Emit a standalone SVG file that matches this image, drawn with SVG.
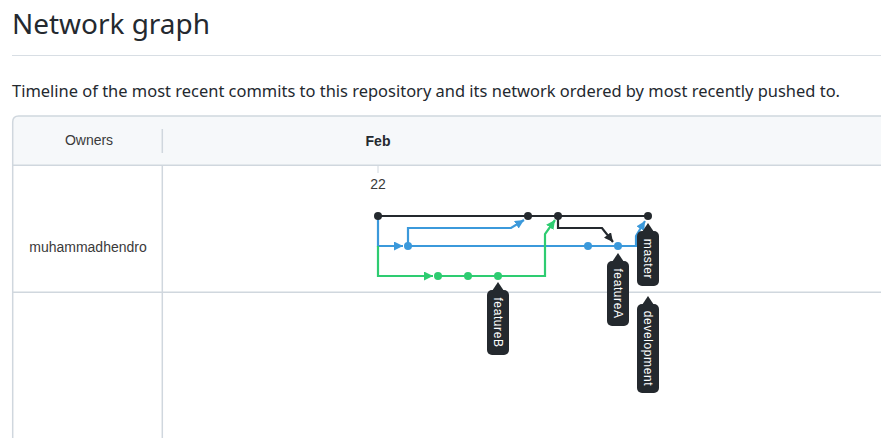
<svg xmlns="http://www.w3.org/2000/svg" width="881" height="438" viewBox="0 0 881 438">
<defs>
<style>
.title{font-family:"Noto Sans","Open Sans",sans-serif;font-size:28px;fill:#24292f}
.sub{font-family:"Noto Sans","Open Sans",sans-serif;font-size:16px;fill:#24292f}
.tbl{font-family:"Liberation Sans",Arial,sans-serif;font-size:14px;fill:#3a3a3a;text-anchor:middle}
.grid{stroke:#d0d7de;stroke-width:1.5;fill:none}
.lbl rect,.lbl path{fill:#24292e}
.lbl text{font-family:"Liberation Sans",Arial,sans-serif;font-size:12px;fill:#ffffff;text-anchor:middle;dominant-baseline:central;letter-spacing:0.6px}
.k{stroke:#24292e;stroke-width:2.2;fill:none}
.b{stroke:#3b99db;stroke-width:2.2;fill:none}
.g{stroke:#2ecc71;stroke-width:2.2;fill:none}
.dk{fill:#24292e}.db{fill:#3b99db}.dg{fill:#2ecc71}
</style>
<marker id="ak" viewBox="0 0 10 10" refX="10" refY="5" markerUnits="userSpaceOnUse" markerWidth="9" markerHeight="9" orient="auto"><path d="M0,0 L10,5 L0,10 z" fill="#24292e"/></marker>
<marker id="ab" viewBox="0 0 10 10" refX="10" refY="5" markerUnits="userSpaceOnUse" markerWidth="9" markerHeight="9" orient="auto"><path d="M0,0 L10,5 L0,10 z" fill="#3b99db"/></marker>
<marker id="ag" viewBox="0 0 10 10" refX="10" refY="5" markerUnits="userSpaceOnUse" markerWidth="9" markerHeight="9" orient="auto"><path d="M0,0 L10,5 L0,10 z" fill="#2ecc71"/></marker>
</defs>
<rect width="881" height="438" fill="#ffffff"/>
<g id="header">
<text class="title" x="12" y="34" textLength="198" lengthAdjust="spacingAndGlyphs">Network graph</text>
<line x1="12" y1="55.5" x2="881" y2="55.5" stroke="#d8dee4" stroke-width="1"/>
<text class="sub" x="12" y="97" textLength="828" lengthAdjust="spacingAndGlyphs">Timeline of the most recent commits to this repository and its network ordered by most recently pushed to.</text>
</g>
<g id="table">
<path d="M12.7,438 V122 Q12.7,116 18.7,116 H881 V165 H12.7 Z" fill="#f6f8fa"/>
<path class="grid" d="M12.7,438 V122 Q12.7,116 18.7,116 H881"/>
<line class="grid" x1="12.7" y1="165.3" x2="881" y2="165.3"/>
<line class="grid" x1="12.7" y1="292.3" x2="881" y2="292.3"/>
<line class="grid" x1="162.3" y1="129" x2="162.3" y2="153"/>
<line class="grid" x1="162.3" y1="165.3" x2="162.3" y2="438"/>
<line x1="378" y1="166" x2="378" y2="173" stroke="#d0d7de" stroke-width="1"/>
<text class="tbl" x="89" y="145">Owners</text>
<text class="tbl" x="378" y="146" font-weight="bold" style="fill:#24292f">Feb</text>
<text class="tbl" x="378" y="189">22</text>
<text class="tbl" x="88" y="252">muhammadhendro</text>
</g>
<g id="connectors">
<path class="k" d="M378,216 H648"/>
<path class="k" d="M558,216 V228 H602 L613,242" marker-end="url(#ak)"/>
<path class="b" d="M378,216 V246 H403" marker-end="url(#ab)"/>
<path class="b" d="M408,246 H618 H636 V236 L645,221" marker-end="url(#ab)"/>
<path class="b" d="M408,246 V228 H511 L524,220" marker-end="url(#ab)"/>
<path class="g" d="M378,246 V276 H433" marker-end="url(#ag)"/>
<path class="g" d="M438,276 H545 V234 L555,220" marker-end="url(#ag)"/>
</g>
<g id="commits">
<circle class="dk" cx="378" cy="216" r="4"/>
<circle class="dk" cx="528" cy="216" r="4"/>
<circle class="dk" cx="558" cy="216" r="4"/>
<circle class="dk" cx="648" cy="216" r="4"/>
<circle class="db" cx="408" cy="246" r="4"/>
<circle class="db" cx="588" cy="246" r="4"/>
<circle class="db" cx="618" cy="246" r="4"/>
<circle class="dg" cx="438" cy="276" r="4"/>
<circle class="dg" cx="468" cy="276" r="4"/>
<circle class="dg" cx="498" cy="276" r="4"/>
</g>
<g id="label-master" class="lbl">
<path d="M648,223 L654,232 H642 Z"/>
<rect x="637" y="231" width="22" height="55" rx="5"/>
<text transform="translate(648,259) rotate(90)">master</text>
</g>
<g id="label-featureA" class="lbl">
<path d="M618,253 L624,262 H612 Z"/>
<rect x="607" y="261" width="22" height="65" rx="5"/>
<text transform="translate(618,293.5) rotate(90)">featureA</text>
</g>
<g id="label-featureB" class="lbl">
<path d="M498,282 L504,291 H492 Z"/>
<rect x="487" y="290" width="22" height="65" rx="5"/>
<text transform="translate(498,322.5) rotate(90)">featureB</text>
</g>
<g id="label-development" class="lbl">
<path d="M648,296 L654,305 H642 Z"/>
<rect x="637" y="304" width="22" height="89" rx="5"/>
<text transform="translate(648,348.5) rotate(90)">development</text>
</g>
</svg>
